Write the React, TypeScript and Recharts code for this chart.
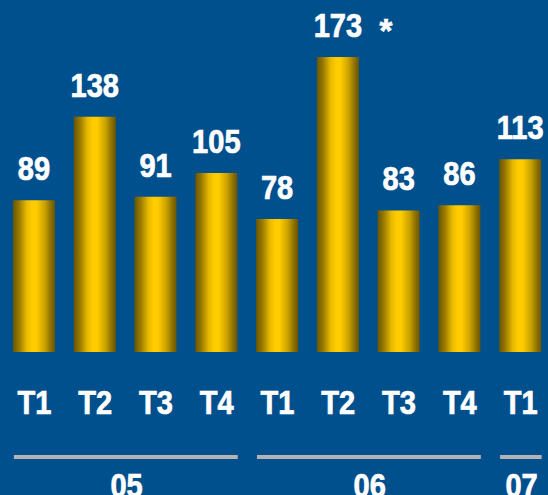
import React from 'react';
import { BarChart, Bar, XAxis, YAxis, LabelList } from 'recharts';

const quarters = ['T1', 'T2', 'T3', 'T4', 'T1', 'T2', 'T3', 'T4', 'T1'];
const years = ['05', '05', '05', '05', '06', '06', '06', '06', '07'];
const values = [89, 138, 91, 105, 78, 173, 83, 86, 113];
const notes = ['', '', '', '', '', '*', '', '', ''];

const data = quarters.map((q, i) => ({
  key: `${years[i]}-${q}`,
  q,
  year: years[i],
  value: values[i],
  note: notes[i],
}));

const W = 548;
const H = 495;
const CHART_W = 560;
const MARGIN = { top: 11, right: 9, left: 4, bottom: 0 };
const PLOT_W = CHART_W - MARGIN.left - MARGIN.right;
const BAND = PLOT_W / data.length;
const BG = '#01508E';
const FONT = '"Liberation Sans", Arial, sans-serif';
const FS = 33;
const SX = 0.88;

const textStyle = {
  fill: '#fff',
  stroke: '#fff',
  strokeWidth: 0.7,
  fontFamily: FONT,
  fontWeight: 'bold' as const,
  fontSize: FS,
};

function Tick(props: any) {
  const { x, y } = props;
  const i: number = props.index ?? props.payload?.index ?? 0;
  const yr = years[i];
  const first = i === 0 || years[i - 1] !== yr;
  let count = 0;
  if (first) {
    for (let k = i; k < years.length && years[k] === yr; k++) count++;
  }
  const lastX = x + (count - 1) * BAND;
  const yc = (x + lastX) / 2;
  return (
    <g>
      <text transform={`translate(${x},${y + 61.5}) scale(${SX},1)`} textAnchor="middle" {...textStyle}>
        {quarters[i]}
      </text>
      {first && (
        <line x1={x - 20.5} x2={lastX + 21} y1={y + 105} y2={y + 105} stroke="#B4B4B4" strokeWidth={4} />
      )}
      {first && (
        <text transform={`translate(${yc + 1},${y + 144.5}) scale(${SX},1)`} textAnchor="middle" {...textStyle}>
          {yr}
        </text>
      )}
    </g>
  );
}

function ValueLabel(props: any) {
  const { x, y, width, value, index } = props;
  const cx = Number(x) + Number(width) / 2;
  const by = Number(y) - 20;
  const note = notes[index] || '';
  return (
    <g>
      <text transform={`translate(${cx},${by}) scale(${SX},1)`} textAnchor="middle" {...textStyle}>
        {value}
      </text>
      {note && (
        <text x={cx + 48} y={by + 5} textAnchor="middle" {...textStyle}>
          {note}
        </text>
      )}
    </g>
  );
}

export default function App() {
  return (
    <div
      style={{
        position: 'absolute',
        left: 0,
        top: 0,
        width: W,
        height: H,
        overflow: 'hidden',
        background: BG,
      }}
    >
      <BarChart width={CHART_W} height={H} data={data} margin={MARGIN}>
        <defs>
          <linearGradient id="gold" x1="0" y1="0" x2="1" y2="0">
            <stop offset="0%" stopColor="#6A5500" />
            <stop offset="15%" stopColor="#9A7B00" />
            <stop offset="32%" stopColor="#E6B800" />
            <stop offset="45%" stopColor="#FFCC00" />
            <stop offset="56%" stopColor="#FFCC00" />
            <stop offset="76%" stopColor="#C9A000" />
            <stop offset="90%" stopColor="#8C7000" />
            <stop offset="100%" stopColor="#6A5500" />
          </linearGradient>
        </defs>
        <YAxis hide domain={[0, 200]} />
        <XAxis
          dataKey="key"
          height={143}
          axisLine={false}
          tickLine={false}
          tickSize={0}
          tickMargin={0}
          interval={0}
          tick={<Tick />}
        />
        <Bar dataKey="value" fill="url(#gold)" barSize={42} isAnimationActive={false}>
          <LabelList dataKey="value" content={<ValueLabel />} />
        </Bar>
      </BarChart>
    </div>
  );
}
